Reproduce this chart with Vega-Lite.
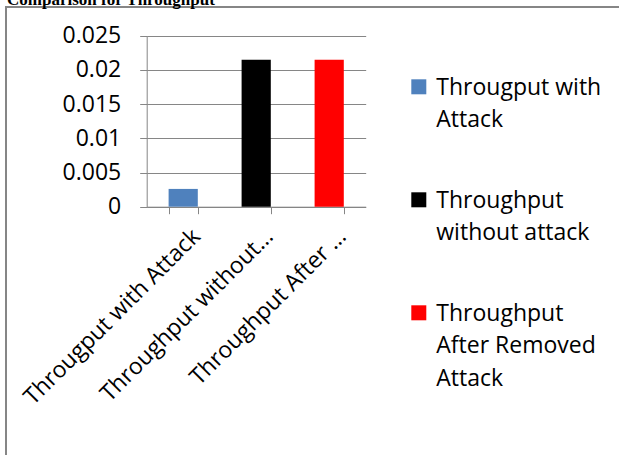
{
  "$schema": "https://vega.github.io/schema/vega-lite/v6.json",
  "width": 613,
  "height": 448,
  "autosize": {"type": "none"},
  "padding": {"left": 6, "top": 7, "right": 0, "bottom": 0},
  "background": "white",
  "title": {
    "text": "Comparison for Throughput",
    "anchor": "start",
    "frame": "group",
    "font": "Liberation Serif",
    "fontSize": 17,
    "fontWeight": "bold",
    "color": "black",
    "baseline": "alphabetic",
    "offset": 0,
    "dx": 1,
    "dy": 15
  },
  "data": {
    "values": [
      {"series": "Througput with Attack", "throughput": 0.0026},
      {"series": "Throughput without attack", "throughput": 0.0215},
      {"series": "Throughput After Removed Attack", "throughput": 0.0215}
    ]
  },
  "mark": {"type": "bar"},
  "encoding": {
    "x": {
      "field": "series",
      "type": "nominal",
      "sort": null,
      "scale": {"range": [140.7, 359.7], "paddingInner": 0.6, "paddingOuter": 0.3},
      "axis": {
        "title": null,
        "orient": "bottom",
        "offset": -248.3,
        "domainColor": "#868686",
        "domainWidth": 1,
        "tickColor": "#868686",
        "tickSize": 7,
        "tickBand": "extent",
        "labelAngle": -45,
        "labelAlign": "right",
        "labelBaseline": "top",
        "labelPadding": 11,
        "labelOffset": 5,
        "labelFont": "Open Sans",
        "labelFontSize": 23,
        "labelColor": "black",
        "labelLimit": 400,
        "labelExpr": "datum.label == 'Throughput without attack' ? 'Throughput without\u2026' : datum.label == 'Throughput After Removed Attack' ? 'Throughput After \u2026' : datum.label"
      }
    },
    "y": {
      "field": "throughput",
      "type": "quantitative",
      "scale": {"domain": [0, 0.025], "range": [199.7, 28.7], "nice": false},
      "axis": {
        "title": null,
        "offset": -140.7,
        "values": [0, 0.005, 0.01, 0.015, 0.02, 0.025],
        "format": "~g",
        "domainColor": "#868686",
        "domainWidth": 1,
        "tickColor": "#868686",
        "tickSize": 7,
        "grid": true,
        "gridColor": "#868686",
        "gridWidth": 1,
        "labelPadding": 19,
        "labelFont": "Open Sans",
        "labelFontSize": 23,
        "labelColor": "black"
      }
    },
    "color": {
      "field": "series",
      "type": "nominal",
      "scale": {
        "domain": ["Througput with Attack", "Throughput without attack", "Throughput After Removed Attack"],
        "range": ["#4F81BD", "#000000", "#FF0000"]
      },
      "legend": {
        "title": null,
        "orient": "none",
        "legendX": 401.3,
        "legendY": 68.3,
        "padding": 0,
        "symbolType": "square",
        "symbolSize": 225,
        "symbolStrokeWidth": 0,
        "symbolOpacity": 1,
        "labelOffset": 6,
        "labelFont": "Open Sans",
        "labelFontSize": 23,
        "labelColor": "black",
        "labelBaseline": "top",
        "labelLimit": 300,
        "rowPadding": 56,
        "labelExpr": "datum.label == 'Througput with Attack' ? ['Througput with', 'Attack'] : datum.label == 'Throughput without attack' ? ['Throughput', 'without attack'] : ['Throughput', 'After Removed', 'Attack']",
        "encode": {
          "labels": {"update": {"dy": {"value": -10}, "lineHeight": {"value": 32.5}}}
        }
      }
    }
  },
  "config": {
    "view": {"stroke": "#868686", "strokeWidth": 2, "strokeDash": [613, 1061, 448]}
  }
}
